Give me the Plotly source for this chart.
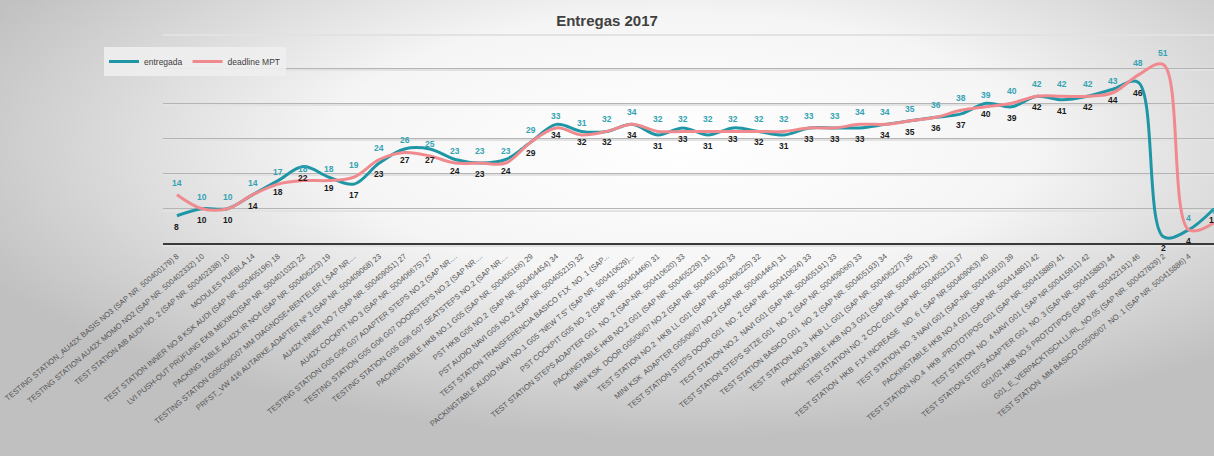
import base64
import plotly.graph_objects as go

categories = [
    "TESTING STATION_AU42X BASIS NO3 (SAP NR. 500400179) 8",
    "TESTING STATION AU42X MOMO NO2 (SAP NR. 500402332) 10",
    "TEST STATION AIB AUDI NO. 2 (SAP NR. 500402338) 10",
    "MODULES PUEBLA 14",
    "TEST STATION INNER NO.8 KSK AUDI (SAP NR. 500405196) 18",
    "LVI PUSH-OUT PRÜFUNG EKB MEXIKO(SAP NR. 500401032) 22",
    "PACKING TABLE AU42X IR NO4 (SAP NR. 500406223) 19",
    "TESTING STATION G05G06G07 MM DIAGNOSE+BENTELER ( SAP NR....",
    "PRFST_VW 416 AUTARKE,ADAPTER Nº 3 (SAP NR. 500409068) 23",
    "AU42X INNER NO 7 (SAP NR. 500409051) 27",
    "AU42X COCKPIT NO 3 (SAP NR. 500406675) 27",
    "TESTING STATION G05 G06 G07 ADAPTER STEPS NO.2 (SAP NR....",
    "TESTING STATION G05 G06 G07 DOORSTEPS NO.2 (SAP NR....",
    "TESTING STATION G05 G06 G07 SEATSTEPS NO.2 (SAP NR....",
    "PACKINGTABLE HKB NO.1 G05 (SAP NR. 500405166) 29",
    "PST HKB G05 NO.2  (SAP NR. 500404454) 34",
    "PST AUDIO NAVI G05 NO.2 (SAP NR. 500405215) 32",
    "TEST STATION TRANSFERENCIA BASICO F1X  NO. 1 (SAP...",
    "PACKINGTABLE AUDIO NAVI NO.1 G05 \"NEW T.S\" (SAP NR. 500410629)...",
    "PST COCKPIT G05 NO. 2 (SAP NR. 500404466) 31",
    "TEST STATION STEPS ADAPTER G01  NO. 2 (SAP-NR. 500410620) 33",
    "PACKINGTABLE HKB NO.2 G01 (SAP NR. 500405229) 31",
    "MINI KSK  DOOR G05/06/07 NO.2 (SAP NR. 500405182) 33",
    "TEST STATION NO.2  HKB LL G01 (SAP NR. 500406225) 32",
    "MINI KSK  ADAPTER G05/06/07 NO.2 (SAP NR. 500404464) 31",
    "TEST STATION STEPS DOOR G01  NO. 2 (SAP NR. 500410624) 33",
    "TEST STATION NO.2  NAVI G01 (SAP NR. 500405191) 33",
    "TEST STATION STEPS SITZE G01  NO. 2 (SAP NR. 500409066) 33",
    "TEST STATION BASICO G01  NO. 2 (SAP NR. 500405193) 34",
    "TEST STATION NO.3  HKB LL G01 (SAP NR. 500406227) 35",
    "PACKINGTABLE HKB NO.3 G01 (SAP NR. 500406251) 36",
    "TEST STATION NO. 2 COC G01 (SAP NR. 500405212) 37",
    "TEST STATION  HKB  F1X INCREASE   NO. 6 ( SAP NR.500409063) 40",
    "TEST STATION NO. 3 NAVI G01 (SAP-NR. 500415910) 39",
    "PACKINGTABLE HKB NO.4 G01 (SAP NR. 500414891) 42",
    "TEST STATION NO.4  HKB -PROTOTIPOS G01 (SAP NR. 500415889) 41",
    "TEST STATION  NO. 4 NAVI G01 ( SAP NR.500415911) 42",
    "TEST STATION STEPS ADAPTER G01  NO. 3 (SAP NR. 500415883) 44",
    "G01/02 HKB NO.5 PROTOTIPOS (SAP NR. 500422191) 46",
    "G01_E_VERPACKTISCH.LL/RL_NO.05 (SAP NR. 500427829) 2",
    "TEST STATION  MM BASICO G05/06/07  NO. 1 (SAP NR. 500415886) 4",
    "AU42X INNER NO 8 (SAP NR. 500409053) 10",
]

entregada = [8, 10, 10, 14, 18, 22, 19, 17, 23, 27,
             27, 24, 23, 24, 29, 34, 32, 32, 34, 31, 33, 31, 33, 32, 31, 33,
             33, 33, 34, 35, 36, 37, 40, 39, 42, 41, 42, 44, 46, 2, 4, 10]

deadline_mpt = [14, 10, 10, 14, 17, 18, 18, 19, 24, 26,
                25, 23, 23, 23, 29, 33, 31, 32, 34, 32, 32, 32, 32, 32, 32, 33,
                33, 34, 34, 35, 36, 38, 39, 40, 42, 42, 42, 43, 48, 51, 4, 6]

TEAL = "#1e96a6"
PINK = "#f08a8e"
FONT = "Liberation Sans, Arial, sans-serif"

x_idx = list(range(len(categories)))

W, H = 1214, 456
y_top, y_bot, y_zero, x_left = 33, 279, 244, 163
Y_RANGE = [-10, 60]
px_per_unit = (y_bot - y_top) / (Y_RANGE[1] - Y_RANGE[0])
shadow = 1.8 / px_per_unit

fig = go.Figure()
# invisible trace to carry the soft "shadow" gridlines
fig.add_trace(go.Scatter(x=[None], y=[None], yaxis="y2", showlegend=False, hoverinfo="skip"))
fig.add_trace(go.Scatter(
    x=x_idx, y=entregada, name="entregada", mode="lines",
    line=dict(color=TEAL, width=3, shape="spline", smoothing=1.0),
))
fig.add_trace(go.Scatter(
    x=x_idx, y=deadline_mpt, name="deadline MPT", mode="lines",
    line=dict(color=PINK, width=3, shape="spline", smoothing=1.0),
))

annotations = []
for i, v in zip(x_idx, deadline_mpt):
    annotations.append(dict(x=i, y=v, xref="x", yref="y", text=str(v), showarrow=False,
                            yshift=12, font=dict(size=8.5, color="#35a3b3", family=FONT, weight="bold")))
for i, v in zip(x_idx, entregada):
    annotations.append(dict(x=i, y=v, xref="x", yref="y", text=str(v), showarrow=False,
                            yshift=-11, font=dict(size=8.5, color="#1a1a1a", family=FONT, weight="bold")))

svg = """<svg xmlns='http://www.w3.org/2000/svg' width='1214' height='456' viewBox='0 0 1214 456' preserveAspectRatio='none'>
<defs><radialGradient id='g' cx='0.56' cy='0.32' r='0.64'>
<stop offset='0' stop-color='#ffffff'/><stop offset='0.45' stop-color='#f5f5f5'/>
<stop offset='1' stop-color='#c0c0c0'/></radialGradient></defs>
<rect width='1214' height='456' fill='url(#g)'/></svg>"""
bg_uri = "data:image/svg+xml;base64," + base64.b64encode(svg.encode()).decode()

fig.update_layout(
    width=W, height=H,
    margin=dict(l=0, r=0, t=0, b=0, autoexpand=False),
    paper_bgcolor="#ffffff", plot_bgcolor="rgba(0,0,0,0)",
    images=[dict(source=bg_uri, xref="paper", yref="paper", x=0, y=1,
                 sizex=1, sizey=1, xanchor="left", yanchor="top",
                 sizing="stretch", layer="below")],
    annotations=annotations,
    title=dict(text="<b>Entregas 2017</b>", x=0.5, xanchor="center",
               y=1 - 21 / H, yanchor="middle",
               font=dict(size=15, color="#404040", family=FONT)),
    showlegend=True,
    legend=dict(orientation="h", x=104 / W, y=1 - 47 / H, xanchor="left", yanchor="top",
                bgcolor="rgba(238,238,238,0.9)", font=dict(size=8.5, color="#404040", family=FONT),
                itemwidth=30, tracegroupgap=0),
    xaxis=dict(
        domain=[x_left / W, 1.0], range=[-0.55, 41.0],
        tickmode="array", tickvals=x_idx, ticktext=categories,
        tickangle=-40, tickfont=dict(size=7.7, color="#555555", family=FONT),
        showgrid=False, zeroline=False, automargin=False,
        showline=True, linecolor="#3a3a3a", linewidth=2,
        anchor="free", position=(H - y_zero) / H,
        ticks="outside", ticklen=4, tickcolor="rgba(0,0,0,0)",
    ),
    yaxis=dict(
        domain=[(H - y_bot) / H, (H - y_top) / H], range=Y_RANGE,
        dtick=10, showticklabels=False, showgrid=True, automargin=False,
        gridcolor="#b4b4b4", gridwidth=1, zeroline=False,
    ),
    yaxis2=dict(
        overlaying="y", range=[Y_RANGE[0] + shadow, Y_RANGE[1] + shadow],
        dtick=10, tick0=0, showticklabels=False, showgrid=True, automargin=False,
        gridcolor="#e2e2e2", gridwidth=1.5, zeroline=False, showline=False,
    ),
)

fig.write_html("out.html")
